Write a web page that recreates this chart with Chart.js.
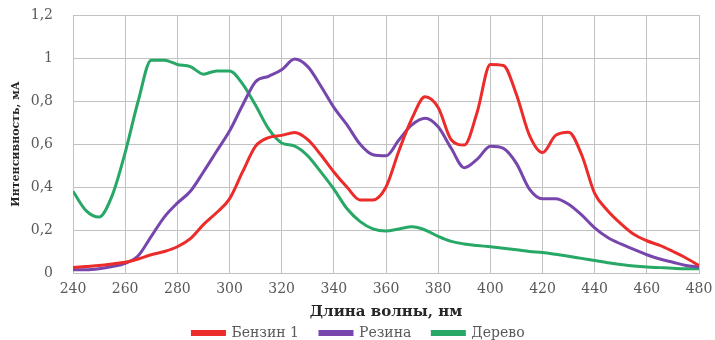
<!DOCTYPE html>
<html>
<head>
<meta charset="utf-8">
<script src="https://cdn.jsdelivr.net/npm/chart.js@4.4.0/dist/chart.umd.min.js"></script>
<style>
  html, body { margin: 0; padding: 0; background: #fff; }
  #wrap { width: 715px; height: 340px; }
</style>
</head>
<body>
<div id="wrap"><canvas id="spectra"></canvas></div>
<script>
// wavelength grid, nm
const wavelengths = [
  240, 245, 250, 255, 260, 265, 270, 275, 280, 285, 290, 295, 300, 305, 310, 315, 320,
  325, 330, 335, 340, 345, 350, 355, 360, 365, 370, 375, 380, 385, 390, 395, 400,
  405, 410, 415, 420, 425, 430, 435, 440, 445, 450, 455, 460, 465, 470, 475, 480,
];

// intensity, mA
const benzine = [
  0.025, 0.03, 0.035, 0.042, 0.05, 0.065, 0.085, 0.1, 0.122, 0.16, 0.225, 0.28, 0.345,
  0.47, 0.59, 0.63, 0.64, 0.653, 0.62, 0.55, 0.47, 0.4, 0.34, 0.34, 0.4, 0.57, 0.72,
  0.82, 0.77, 0.62, 0.595, 0.75, 0.97, 0.965, 0.83, 0.64, 0.56, 0.64, 0.655, 0.55,
  0.37, 0.29, 0.23, 0.18, 0.15, 0.128, 0.1, 0.07, 0.035,
];
const rubber = [
  0.015, 0.015, 0.02, 0.03, 0.045, 0.08, 0.17, 0.26, 0.325, 0.38, 0.47, 0.565, 0.66,
  0.78, 0.89, 0.915, 0.945, 0.995, 0.96, 0.87, 0.77, 0.69, 0.6, 0.55, 0.545, 0.62,
  0.69, 0.72, 0.68, 0.58, 0.49, 0.53, 0.59, 0.58, 0.51, 0.39, 0.345, 0.345, 0.32,
  0.27, 0.21, 0.165, 0.135, 0.11, 0.085, 0.065, 0.05, 0.035, 0.028,
];
const wood = [
  0.38, 0.29, 0.26, 0.36, 0.56, 0.8, 0.99, 0.99, 0.97, 0.96, 0.925, 0.94, 0.94,
  0.88, 0.78, 0.67, 0.605, 0.59, 0.545, 0.47, 0.39, 0.3, 0.24, 0.205, 0.195, 0.205,
  0.215, 0.2, 0.17, 0.147, 0.135, 0.128, 0.122, 0.115, 0.108, 0.1, 0.095, 0.087,
  0.078, 0.068, 0.058, 0.048, 0.04, 0.033, 0.028, 0.025, 0.022, 0.02, 0.02,
];

const seriesNames = ["Бензин 1", "Резина", "Дерево"];
const seriesColors = ["#ec2b2b", "#7646ad", "#27a866"];
const seriesValues = [benzine, rubber, wood];

const xTitle = "Длина волны, нм";
const yTitle = "Интенсивность, мА";

const gridColor = "#c2c2c2";
const tickColor = "#595959";
const serif = "'DejaVu Serif', 'Liberation Serif', serif";

const datasets = seriesValues.map((vals, i) => ({
  label: seriesNames[i],
  data: vals.map((v, j) => ({ x: wavelengths[j], y: v })),
  borderColor: seriesColors[i],
  backgroundColor: seriesColors[i],
  borderWidth: 3,
  pointRadius: 0,
  fill: false,
  cubicInterpolationMode: "monotone",
}));

new Chart(document.getElementById("spectra").getContext("2d"), {
  type: "line",
  data: { datasets },
  options: {
    responsive: true,
    maintainAspectRatio: false,
    animation: false,
    layout: { padding: { left: 2, right: 0, top: 0, bottom: -10 } },
    plugins: {
      tooltip: { enabled: false },
      legend: {
        position: "bottom",
        labels: {
          color: tickColor,
          font: { family: serif, size: 14 },
          boxWidth: 32,
          boxHeight: 3,
          padding: 21,
        },
      },
    },
    scales: {
      x: {
        type: "linear",
        min: 240,
        max: 480,
        grid: { color: gridColor, drawTicks: false },
        border: { color: gridColor },
        ticks: {
          stepSize: 20,
          color: tickColor,
          padding: 9,
          font: { family: serif, size: 14, lineHeight: 1 },
          maxRotation: 0,
        },
        title: {
          display: true,
          text: xTitle,
          color: "#262626",
          font: { family: serif, size: 15, weight: "bold", lineHeight: 1 },
          padding: { top: 0, bottom: -15 },
        },
        afterFit: (scale) => {
          scale.paddingRight = 16;
        },
      },
      y: {
        min: 0,
        max: 1.2,
        grid: { color: gridColor, drawTicks: false },
        border: { color: gridColor },
        ticks: {
          stepSize: 0.2,
          color: tickColor,
          padding: 20,
          font: { family: serif, size: 14 },
          callback: (v) => String(Math.round(v * 10) / 10).replace(".", ","),
        },
        title: {
          display: true,
          text: yTitle,
          color: "#262626",
          font: { family: serif, size: 11, weight: "bold" },
          padding: { top: 8, bottom: 0 },
        },
        afterFit: (scale) => {
          scale.width = 71;
          scale.paddingTop = 15;
        },
      },
    },
  },
});
</script>
</body>
</html>
